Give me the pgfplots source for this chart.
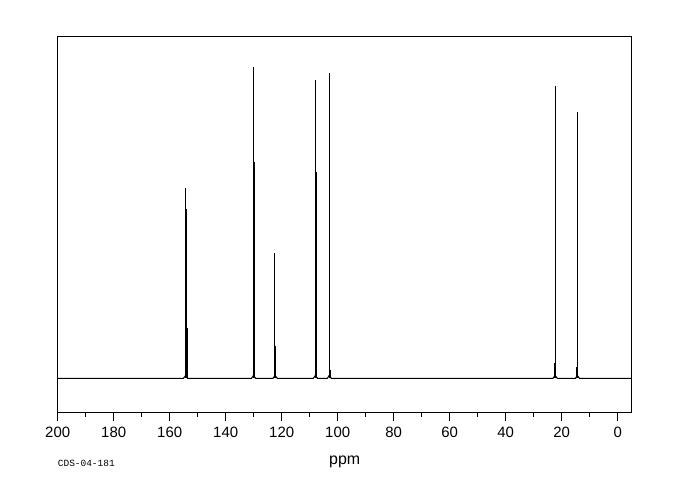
\documentclass[border=0pt]{standalone}
\usepackage{fontspec}
\setmainfont{Liberation Sans}
\newfontfamily\monof{Liberation Mono}
\usepackage{pgfplots}
\pgfplotsset{compat=1.18}
\begin{document}
\begin{tikzpicture}[x=1bp,y=1bp]
\path (0,0) rectangle (680,500);
\begin{axis}[
  at={(57.7bp,87bp)}, anchor=south west,
  scale only axis, width=574bp, height=376.5bp,
  x dir=reverse, xmin=-5, xmax=200, ymin=-34.7, ymax=341.8,
  axis line style={line width=1bp},
  xtick={0,20,...,200}, minor xtick={10,30,...,190},
  ytick=\empty,
  tick align=outside, xtick pos=left,
  major tick length=8.5bp, minor tick length=4bp,
  every tick/.style={line width=1bp, black},
  /pgf/number format/assume math mode=true,
  xticklabel style={font=\fontsize{15}{15}\selectfont, anchor=north, yshift=-2.5bp},
  xlabel={ppm},
  xlabel style={font=\fontsize{16}{16}\selectfont, at={(axis description cs:0.5,0)}, anchor=base, yshift=-52bp},
  clip=false,
]
\addplot[black, line width=1bp] coordinates {
(200,0)(155.1,0)(154.3,3)(153.6,0)(130.8,0)(130.05,3)(129.3,0)(123.1,0)(122.35,3)(121.6,0)
(108.7,0)(107.95,3)(107.2,0)(103.7,0)(103.0,3)(102.3,0)(23.1,0)(22.35,3)(21.6,0)
(15.1,0)(14.4,3)(13.7,0)(-5,0)
};
\addplot[black, ycomb, line width=1bp] coordinates {
(154.5,190)(154.15,169)(153.8,50)
(130.15,311)(129.8,216)
(122.45,125)(122.1,32)
(108.05,298)(107.7,206)
(103.0,305)(102.7,8)
(22.3,292)(22.6,15)
(14.4,266)(14.7,11)
};
\node[anchor=base west, font=\monof\fontsize{9.5}{9.5}\selectfont, inner sep=0pt] at (axis description cs:0,0) [yshift=-53.5bp] {CDS-04-181};
\end{axis}
\end{tikzpicture}
\end{document}
